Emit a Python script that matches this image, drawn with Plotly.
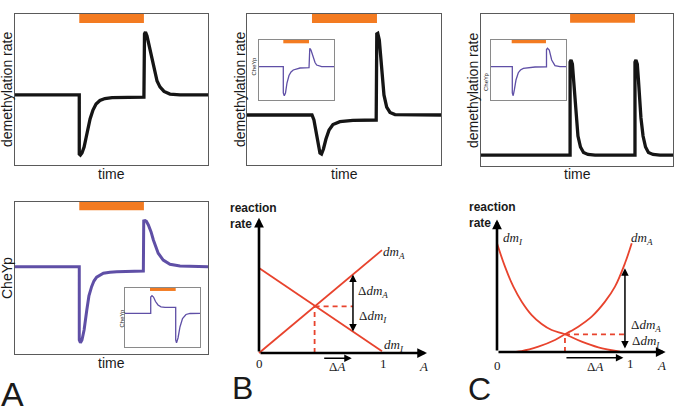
import plotly.graph_objects as go

W, H = 685, 411

# ======================= DATA =======================
# Time courses: time and signal in normalized units (panel box = 0..100)

# Panel A, top: demethylation rate
a_top_time = [0, 33.3, 33.3, 33.9, 34.7, 35.8, 36.8, 37.8, 38.9, 40.4, 42.0, 44.0, 46.6, 50.3, 57.0,
              66.6, 66.8, 67.1, 67.6, 68.4, 69.4, 70.5, 71.5, 72.5, 73.6, 75.1, 77.2, 80.3, 85.5, 100]
a_top_rate = [46.4, 46.4, 7.3, 6.6, 7.9, 11.9, 17.9, 24.5, 30.5, 36.4, 40.4, 42.7, 44.0, 44.6, 44.7,
              44.8, 45.0, 86.8, 88.1, 85.4, 79.5, 72.2, 65.6, 60.3, 55.6, 51.7, 48.7, 47.0, 46.4, 46.4]
a_top_stim = [33.3, 66.8]

# Panel A, bottom: CheYp
a_bot_time = [0, 33.3, 33.3, 33.9, 34.7, 35.8, 37.2, 38.3, 39.7, 40.9, 42.3, 44.0, 45.8, 49.2,
              52.7, 66.5, 66.7, 67.4, 68.1, 69.1, 70.5, 71.7, 73.1, 74.2, 76.8, 80.3, 85.5, 100]
a_bot_cheyp = [57.4, 57.4, 9.2, 7.4, 9.2, 15.8, 28.9, 38.2, 44.3, 48.0, 50.5, 52.0, 53.1, 53.8,
               54.1, 54.6, 87.5, 87.7, 87.2, 84.9, 80.3, 75.0, 70.4, 66.3, 61.8, 59.0, 57.9, 57.4]
a_bot_stim = [33.3, 66.8]

# Panel A, bottom inset: CheYp
a_ins_time = [0, 34.3, 34.3, 36, 38, 40.7, 44, 48, 53.3, 67.6, 67.6, 68.7, 70.7, 73.3, 76.7, 81.3, 86.7, 100]
a_ins_cheyp = [57.1, 57.1, 84.7, 86.9, 84.7, 77.1, 71.2, 68.1, 67.3, 67.3, 11.9, 7.3, 15.3, 33.9,
               48.3, 55.1, 56.8, 57.1]
a_ins_stim = [33.3, 67.6]

# Panel B, top: demethylation rate
b_top_time = [0, 33.5, 34.5, 35.6, 36.6, 37.6, 38.4, 39.4, 40.7, 42.3, 44.3, 47.9, 54.6, 66.6,
              66.9, 67.4, 68.2, 69.1, 69.8, 70.6, 72.0, 73.7, 76.3, 100]
b_top_rate = [33.1, 33.1, 29.8, 21.9, 13.2, 7.9, 7.3, 10.6, 17.2, 23.2, 26.8, 28.7, 29.6, 29.8,
              86.8, 87.2, 82.8, 69.5, 56.3, 46.4, 38.4, 34.8, 33.4, 33.1]
b_top_stim = [33.5, 67.0]

# Panel B, inset: CheYp
b_ins_time = [0, 32.4, 32.4, 33.7, 35.3, 37.3, 40, 42.7, 45.7, 54.7, 66.7, 66.7, 67.7, 69.3,
              72.4, 74.7, 76.9, 83.6, 100]
b_ins_cheyp = [55.5, 55.5, 11.7, 7.2, 11.7, 28.3, 40.8, 46.7, 50, 53.3, 53.8, 85, 86.2, 83.3,
               69.5, 62.5, 58.3, 55.5, 55.5]
b_ins_stim = [32.4, 66.7]

# Panel C, top: demethylation rate
c_top_time = [0, 46.4, 46.4, 46.9, 47.6, 48.2, 48.7, 49.5, 50.5, 51.8, 53.4, 55.7, 59.4,
              80.2, 80.2, 80.7, 81.4, 82.0, 82.6, 83.3, 84.4, 85.7, 87.2, 89.6, 93.2, 100]
c_top_rate = [7.2, 7.2, 68.4, 69.7, 67.1, 56.6, 45.4, 31.6, 19.7, 12.5, 8.9, 7.6, 7.2,
              7.2, 68.4, 69.7, 67.1, 56.6, 45.4, 31.6, 19.7, 12.5, 8.9, 7.6, 7.2, 7.2]
c_top_stim = [46.4, 80.2]

# Panel C, inset: CheYp
c_ins_time = [0, 28.4, 28.4, 29.6, 31.1, 33.3, 36.4, 39.3, 43.1, 58.7, 74, 74, 75.3, 77.7,
              80.9, 83.3, 85.3, 92, 100]
c_ins_cheyp = [55.5, 55.5, 11.7, 7.2, 16.7, 33.3, 45.5, 50, 52.8, 55, 55.3, 84.2, 86.2, 83.3,
               66.7, 60, 57.2, 55.5, 55.5]
c_ins_stim = [27.6, 73.3]

# Panel B, bottom: linear reaction rates vs activity A
b_A = [0, 1]
b_dmA = [0, 1.21]
b_dmI = [1, 0.02]
b_cross = [0.452, 0.548]          # crossing point (A, rate)
b_probe = [0.764, 0.925, 0.236]   # A, dm_A, dm_I at probe
b_dA = [0.518, 0.754]

# Panel C, bottom: nonlinear reaction rates vs activity A
c_dmI_A = [0, 0.06, 0.123, 0.186, 0.261, 0.336, 0.411, 0.511, 0.637, 0.762, 0.925]
c_dmI = [1.0, 0.785, 0.601, 0.463, 0.34, 0.258, 0.202, 0.163, 0.095, 0.043, 0.003]
c_dmA_A = [0.085, 0.186, 0.311, 0.436, 0.511, 0.611, 0.712, 0.812, 0.887, 0.962, 1.013]
c_dmA = [0, 0.009, 0.049, 0.11, 0.163, 0.233, 0.325, 0.463, 0.601, 0.816, 1.0]
c_cross = [0.511, 0.163]
c_probe = [0.962, 0.77, 0.018]
c_dA = [0.511, 0.95]

# ======================= STYLE =======================
ORANGE = "#F37B21"
PURPLE = "#5F4FA6"
RED = "#E8432D"
BOX = "#5a5a5a"
INSET_BOX = "#8a8a8a"
SANS = "Liberation Sans, Arial, sans-serif"
SERIF = "Liberation Serif, Times New Roman, serif"

fig = go.Figure()
axes = {}
count = [0]


def fx(px):
    return px / W


def fy(py):
    return 1 - py / H


def new_axes(x0, x1, y0, y1, xr, yr, box=None, bw=1.0):
    count[0] += 1
    n = count[0]
    sx = "" if n == 1 else str(n)
    common = dict(showgrid=False, zeroline=False, showticklabels=False, ticks="",
                  fixedrange=True, showline=box is not None, mirror=box is not None,
                  linecolor=box or "black", linewidth=bw)
    axes["xaxis" + sx] = dict(domain=[fx(x0), fx(x1)], range=xr, anchor="y" + sx, **common)
    axes["yaxis" + sx] = dict(domain=[fy(y1), fy(y0)], range=yr, anchor="x" + sx, **common)
    return "x" + sx, "y" + sx


def time_panel(x0, x1, y0, y1, t, v, stim, color, width, box, bw, bar_h):
    xa, ya = new_axes(x0, x1, y0, y1, [0, 100], [0, 100], box=box, bw=bw)
    fig.add_shape(type="rect", xref=xa, yref=ya, x0=stim[0], x1=stim[1], y0=100 - bar_h, y1=100,
                  fillcolor=ORANGE, line=dict(width=0), layer="above")
    fig.add_trace(go.Scatter(x=t, y=v, mode="lines", xaxis=xa, yaxis=ya, hoverinfo="skip",
                             line=dict(color=color, width=width), showlegend=False))
    return xa, ya


def label(px, py, text, size=14, angle=0, family=SANS, xanchor="center", align="center"):
    fig.add_annotation(x=fx(px), y=fy(py), xref="paper", yref="paper", text=text, showarrow=False,
                       textangle=angle, xanchor=xanchor, yanchor="middle", align=align,
                       font=dict(family=family, size=size, color="#1a1a1a"))


# ---- top-row and A-bottom time panels ----
time_panel(15, 208, 14, 165, a_top_time, a_top_rate, a_top_stim, "#151515", 3.3, BOX, 1.2, 6)
time_panel(15, 208, 202, 354, a_bot_time, a_bot_cheyp, a_bot_stim, PURPLE, 3.0, BOX, 1.2, 5.5)
time_panel(125, 200, 288, 347, a_ins_time, a_ins_cheyp, a_ins_stim, PURPLE, 1.3, INSET_BOX, 1.0, 5)
time_panel(247, 441, 14, 165, b_top_time, b_top_rate, b_top_stim, "#151515", 3.3, BOX, 1.2, 6)
time_panel(259, 334, 40, 100, b_ins_time, b_ins_cheyp, b_ins_stim, PURPLE, 1.3, INSET_BOX, 1.0, 5.5)
time_panel(481, 673, 14, 166, c_top_time, c_top_rate, c_top_stim, "#151515", 3.3, BOX, 1.2, 5.7)
time_panel(491, 566, 40, 100, c_ins_time, c_ins_cheyp, c_ins_stim, PURPLE, 1.3, INSET_BOX, 1.0, 5.5)

# time-panel labels
label(7, 90, "demethylation rate", angle=-90)
label(111, 174, "time")
label(7, 278, "CheYp", angle=-90)
label(111, 363, "time")
label(121.5, 318, "CheYp", size=6, angle=-90)
label(240, 90, "demethylation rate", angle=-90)
label(344, 174, "time")
label(253.5, 66, "CheYp", size=6, angle=-90)
label(473, 90, "demethylation rate", angle=-90)
label(577, 174, "time")
label(486, 81, "CheYp", size=6, angle=-90)

# panel letters
label(12, 394, "A", size=34)
label(243, 388, "B", size=32)
label(479, 389, "C", size=32)


# ---- reaction-rate diagrams ----
def rate_axes(x0, x1, y0, y1, ox, oy, sx, sy):
    xr = [(x0 - ox) / sx, (x1 - ox) / sx]
    yr = [(oy - y1) / sy, (oy - y0) / sy]
    return new_axes(x0, x1, y0, y1, xr, yr)


def arrow(xa, ya, x, y, axv, ayv, width, size, both=False, color="black"):
    fig.add_annotation(x=x, y=y, ax=axv, ay=ayv, xref=xa, yref=ya, axref=xa, ayref=ya, text="",
                       showarrow=True, arrowhead=2, startarrowhead=2, arrowsize=size,
                       startarrowsize=size, arrowwidth=width, arrowcolor=color,
                       arrowside="end+start" if both else "end", standoff=0, startstandoff=0)


def txt(xa, ya, x, y, text, size=13, family=SERIF):
    fig.add_annotation(x=x, y=y, xref=xa, yref=ya, text=text, showarrow=False,
                       font=dict(family=family, size=size, color="#1a1a1a"))


def line(xa, ya, xs, ys, color=RED, width=1.8, dash=None, shape="linear"):
    fig.add_trace(go.Scatter(x=xs, y=ys, mode="lines", xaxis=xa, yaxis=ya, hoverinfo="skip",
                             showlegend=False,
                             line=dict(color=color, width=width, dash=dash, shape=shape)))


DMA = "<i>dm</i><sub><i>A</i></sub>"
DMI = "<i>dm</i><sub><i>I</i></sub>"
DDMA = "Δ<i>dm</i><sub><i>A</i></sub>"
DDMI = "Δ<i>dm</i><sub><i>I</i></sub>"
DA = "Δ<i>A</i>"

# B bottom
xb, yb = rate_axes(225, 450, 195, 385, 259, 353, 123, 85)
line(xb, yb, b_A, b_dmA)
line(xb, yb, b_A, b_dmI)
line(xb, yb, [b_cross[0], b_cross[0]], [0, b_cross[1]], dash="5px,4px")
line(xb, yb, [b_cross[0], b_probe[0]], [b_cross[1], b_cross[1]], dash="5px,4px")
arrow(xb, yb, 1.366, 0, 0, 0, 2.6, 0.75)
arrow(xb, yb, 0, 1.59, 0, 0, 2.6, 0.75)
arrow(xb, yb, b_probe[0], b_probe[1], b_probe[0], b_probe[2], 1.5, 1.0, both=True)
arrow(xb, yb, b_dA[1], -0.063, b_dA[0], -0.063, 1.5, 1.0)
txt(xb, yb, 1.098, 1.18, DMA)
txt(xb, yb, 1.098, 0.094, DMI)
txt(xb, yb, 0.929, 0.718, DDMA)
txt(xb, yb, 0.929, 0.427, DDMI)
txt(xb, yb, 0, -0.12, "0")
txt(xb, yb, 1.016, -0.12, "1")
txt(xb, yb, 1.336, -0.16, "<i>A</i>")
txt(xb, yb, 0.634, -0.16, DA)
label(228, 216, "<b>reaction</b><br><b>rate</b>", size=12, xanchor="left", align="left")

# C bottom
xc, yc = rate_axes(455, 685, 195, 385, 497, 352, 133, 108.7)
line(xc, yc, c_dmI_A, c_dmI, shape="spline")
line(xc, yc, c_dmA_A, c_dmA, shape="spline")
line(xc, yc, [c_cross[0], c_cross[0]], [0, c_cross[1]], dash="5px,4px")
line(xc, yc, [c_cross[0], c_probe[0]], [c_cross[1], c_cross[1]], dash="5px,4px")
arrow(xc, yc, 1.268, 0, 0, 0, 2.6, 0.75)
arrow(xc, yc, 0, 1.22, 0, 0, 2.6, 0.75)
arrow(xc, yc, c_probe[0], c_probe[1], c_probe[0], c_probe[2], 1.5, 1.0, both=True)
arrow(xc, yc, c_dA[1], -0.052, c_dA[0], -0.052, 1.5, 1.0)
txt(xc, yc, 0.123, 1.046, DMI)
txt(xc, yc, 1.088, 1.046, DMA)
txt(xc, yc, 1.12, 0.248, DDMA)
txt(xc, yc, 1.12, 0.095, DDMI)
txt(xc, yc, 0, -0.12, "0")
txt(xc, yc, 1.0, -0.104, "1")
txt(xc, yc, 1.238, -0.12, "<i>A</i>")
txt(xc, yc, 0.737, -0.135, DA)
label(467, 215, "<b>reaction</b><br><b>rate</b>", size=12, xanchor="left", align="left")

fig.update_layout(width=W, height=H, margin=dict(l=0, r=0, t=0, b=0),
                  paper_bgcolor="white", plot_bgcolor="rgba(0,0,0,0)",
                  font=dict(family=SANS), showlegend=False, **axes)

fig.write_html("out.html", config={"displayModeBar": False})

# remove the browser's default page margin so the figure sits at (0, 0)
with open("out.html", encoding="utf-8") as f:
    page = f.read()
page = page.replace("<body>", '<body style="margin:0;padding:0;overflow:hidden">', 1)
page = page.replace("<head>", "<head><style>html,body{margin:0;padding:0;}</style>", 1)
with open("out.html", "w", encoding="utf-8") as f:
    f.write(page)
